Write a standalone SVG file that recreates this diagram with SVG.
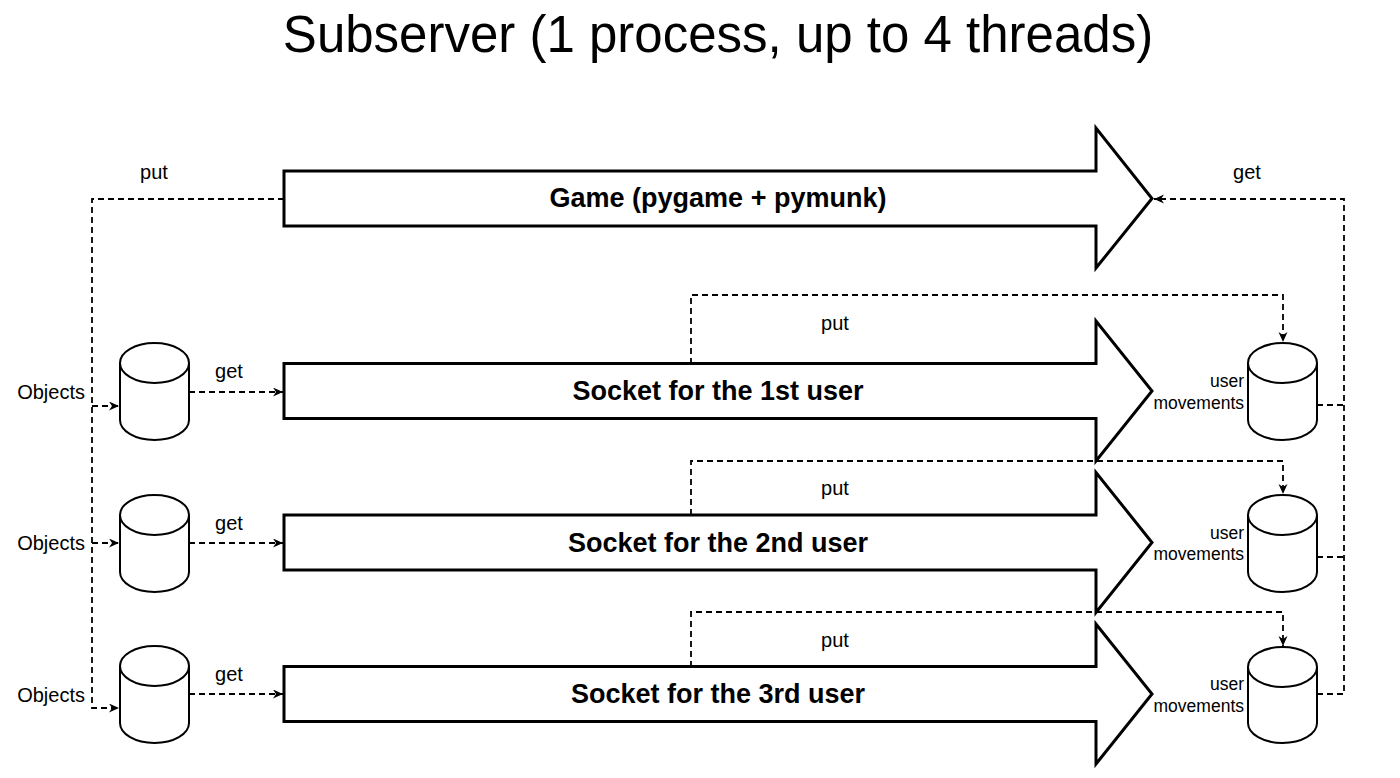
<svg xmlns="http://www.w3.org/2000/svg" width="1400" height="778" viewBox="0 0 1400 778">
<defs>
<style>
.big{fill:#fff;stroke:#000;stroke-width:3;stroke-linejoin:miter}
.cyl{fill:#fff;stroke:#000;stroke-width:2}
.con{fill:none;stroke:#000;stroke-width:1.8;stroke-dasharray:6 4}
.lbl{font-family:"Liberation Sans",Arial,sans-serif;font-size:20px;fill:#000}
.um{font-family:"Liberation Sans",Arial,sans-serif;font-size:17.5px;fill:#000;text-anchor:end}
.bold{font-family:"Liberation Sans",Arial,sans-serif;font-size:27px;font-weight:bold;fill:#000;text-anchor:middle}
.title{font-family:"Liberation Sans",Arial,sans-serif;font-size:51px;fill:#000;text-anchor:middle}
</style>
<marker id="ah" markerWidth="11" markerHeight="10" refX="10" refY="4.5" orient="auto" markerUnits="userSpaceOnUse">
<path d="M0,0 L10,4.5 L0,9 L3,4.5 z" fill="#000"/>
</marker>
</defs>
<rect width="1400" height="778" fill="#fff"/>
<text class="title" x="718" y="52">Subserver (1 process, up to 4 threads)</text>

<g id="connectors">
<path class="con" d="M284,199 H92 V708 H119" marker-end="url(#ah)"/>
<path class="con" d="M92,406 H119" marker-end="url(#ah)"/>
<path class="con" d="M92,543 H119" marker-end="url(#ah)"/>
<path class="con" d="M189,392 H283" marker-end="url(#ah)"/>
<path class="con" d="M189,543 H283" marker-end="url(#ah)"/>
<path class="con" d="M189,694 H283" marker-end="url(#ah)"/>
<path class="con" d="M691,364 V295 H1283 V342" marker-end="url(#ah)"/>
<path class="con" d="M691,515 V461 H1283 V494" marker-end="url(#ah)"/>
<path class="con" d="M691,667 V612 H1283 V646" marker-end="url(#ah)"/>
<path class="con" d="M1317,694 H1344 V199 H1154" marker-end="url(#ah)"/>
<path class="con" d="M1317,405 H1344"/>
<path class="con" d="M1317,557 H1344"/>
<text class="lbl" x="154" y="179" text-anchor="middle">put</text>
<text class="lbl" x="1247" y="179" text-anchor="middle">get</text>
<text class="lbl" x="229" y="378" text-anchor="middle">get</text>
<text class="lbl" x="229" y="530" text-anchor="middle">get</text>
<text class="lbl" x="229" y="681" text-anchor="middle">get</text>
<text class="lbl" x="835" y="330" text-anchor="middle">put</text>
<text class="lbl" x="835" y="495" text-anchor="middle">put</text>
<text class="lbl" x="835" y="647" text-anchor="middle">put</text>
</g>

<g id="game">
<path class="big" d="M284,171 H1096 V128 L1152,198.5 L1096,268 V226 H284 Z"/>
<text class="bold" x="718" y="207">Game (pygame + pymunk)</text>
</g>
<g id="socket1">
<path class="big" d="M284,363.5 H1096 V321 L1152,391 L1096,461 V418.5 H284 Z"/>
<text class="bold" x="718" y="400">Socket for the 1st user</text>
</g>
<g id="socket2">
<path class="big" d="M284,515 H1096 V472.5 L1152,542.5 L1096,612.5 V570 H284 Z"/>
<text class="bold" x="718" y="551.5">Socket for the 2nd user</text>
</g>
<g id="socket3">
<path class="big" d="M284,666.5 H1096 V624 L1152,694 L1096,764 V721.5 H284 Z"/>
<text class="bold" x="718" y="703">Socket for the 3rd user</text>
</g>

<g id="objects1">
<path class="cyl" d="M120,363 A34.5,20 0 0 1 189,363 V420 A34.5,20 0 0 1 120,420 Z M120,363 A34.5,20 0 0 0 189,363"/>
<text class="lbl" x="85" y="399" text-anchor="end">Objects</text>
</g>
<g id="objects2">
<path class="cyl" d="M120,515 A34.5,20 0 0 1 189,515 V572 A34.5,20 0 0 1 120,572 Z M120,515 A34.5,20 0 0 0 189,515"/>
<text class="lbl" x="85" y="550" text-anchor="end">Objects</text>
</g>
<g id="objects3">
<path class="cyl" d="M120,666 A34.5,20 0 0 1 189,666 V723 A34.5,20 0 0 1 120,723 Z M120,666 A34.5,20 0 0 0 189,666"/>
<text class="lbl" x="85" y="702" text-anchor="end">Objects</text>
</g>

<g id="moves1">
<path class="cyl" d="M1248,363 A34.5,20 0 0 1 1317,363 V420 A34.5,20 0 0 1 1248,420 Z M1248,363 A34.5,20 0 0 0 1317,363"/>
<text class="um" x="1244" y="387">user</text>
<text class="um" x="1244" y="409">movements</text>
</g>
<g id="moves2">
<path class="cyl" d="M1248,515 A34.5,20 0 0 1 1317,515 V572 A34.5,20 0 0 1 1248,572 Z M1248,515 A34.5,20 0 0 0 1317,515"/>
<text class="um" x="1244" y="539">user</text>
<text class="um" x="1244" y="560">movements</text>
</g>
<g id="moves3">
<path class="cyl" d="M1248,667 A34.5,20 0 0 1 1317,667 V723 A34.5,20 0 0 1 1248,723 Z M1248,667 A34.5,20 0 0 0 1317,667"/>
<text class="um" x="1244" y="690">user</text>
<text class="um" x="1244" y="712">movements</text>
</g>
</svg>
